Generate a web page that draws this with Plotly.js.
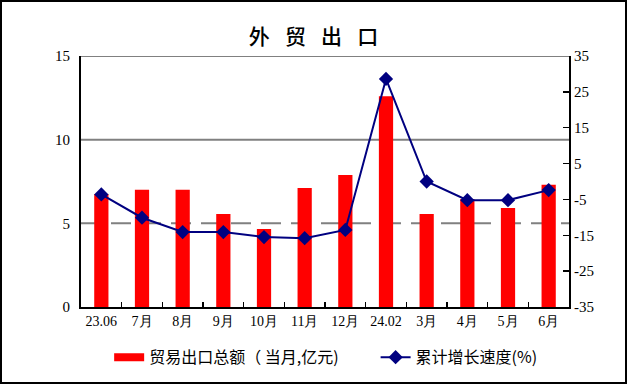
<!DOCTYPE html>
<html><head><meta charset="utf-8">
<script src="https://cdn.plot.ly/plotly-3.0.1.min.js"></script>
<style>
html,body{margin:0;padding:0;background:#fff;}
#wrap{width:627px;height:384px;box-sizing:border-box;border:2px solid #000;}
#chart{width:623px;height:380px;}
</style></head>
<body><div id="wrap"><div id="chart"></div></div>
<script>
const categories = ["23.06","7月","8月","9月","10月","11月","12月","24.02","3月","4月","5月","6月"];
const exportValues = [6.75, 7.0, 7.0, 5.56, 4.66, 7.11, 7.89, 12.6, 5.56, 6.45, 5.92, 7.3];
const growthRates = [-3.6, -10.1, -14.1, -14.1, -15.5, -15.8, -13.5, 28.6, 0.0, -5.2, -5.2, -2.4];
const leftTicks = [0, 5, 10, 15];
const rightTicks = [-35, -25, -15, -5, 5, 15, 25, 35];
const barName = "贸易出口总额（ 当月,亿元)";
const lineName = "累计增长速度(%)";

const serif = "Liberation Serif";
const cjk = "Noto Sans CJK SC";

const traces = [
  {type:"bar", x:categories, y:exportValues, marker:{color:"#ff0000"}, showlegend:false, name:barName, hoverinfo:"skip"},
  {type:"scatter", mode:"lines", x:[categories[0]], y:[null], line:{color:"#ff0000", width:8}, name:barName + "\u2003\u2003", showlegend:true},
  {type:"scatter", mode:"lines+markers", x:categories, y:growthRates, yaxis:"y2", name:lineName,
   line:{color:"#000080", width:2}, marker:{symbol:"diamond", size:11, color:"#000080"}}
];

const gridShapes = leftTicks.filter(v=>v>0).map(v=>({
  type:"line", xref:"paper", yref:"y", x0:0, x1:1, y0:v, y1:v, layer:"below",
  line:{color:"#808080", width:2, dash: v===5 ? "20px,10px" : "solid"}
}));

const layout = {
  width:623, height:380,
  margin:{l:79, r:56, t:54, b:75, autoexpand:false},
  paper_bgcolor:"#fff", plot_bgcolor:"#fff",
  title:{text:"外\u2002 贸\u2002 出\u2002 口", x:0.5, xanchor:"center", y:0.91, yanchor:"middle", font:{family:cjk, size:21, color:"#000", weight:500}},
  bargap:0.65,
  showlegend:true,
  legend:{orientation:"h", xref:"container", yref:"container", x:0.172, xanchor:"left", y:0.065, yanchor:"middle",
          font:{family:cjk, size:16, color:"#000"}, tracegroupgap:0},
  xaxis:{type:"category", range:[-0.5, categories.length-0.5], tickvals:categories, ticktext:categories, tickangle:0, showline:true, linecolor:"#000", linewidth:2,
         ticks:"inside", tickson:"boundaries", ticklen:5, tickcolor:"#000", tickwidth:1.5,
         tickfont:{family:serif, size:14, color:"#000"}, showgrid:false, zeroline:false},
  yaxis:{range:[0,15], tickvals:leftTicks, ticktext:leftTicks.map(String), showline:true, linecolor:"#000", linewidth:2,
         ticks:"", showgrid:false, zeroline:false, tickfont:{family:serif, size:15, color:"#000"}, ticklabelstandoff:6},
  yaxis2:{range:[-35,35], overlaying:"y", side:"right", tickvals:rightTicks, ticktext:rightTicks.map(String),
          showline:true, linecolor:"#000", linewidth:2, ticks:"inside", ticklen:6, tickwidth:1.5, tickcolor:"#000",
          showgrid:false, zeroline:false, tickfont:{family:serif, size:15, color:"#000"}},
  shapes:gridShapes
};

Plotly.newPlot("chart", traces, layout, {displayModeBar:false, staticPlot:true});
</script></body></html>
